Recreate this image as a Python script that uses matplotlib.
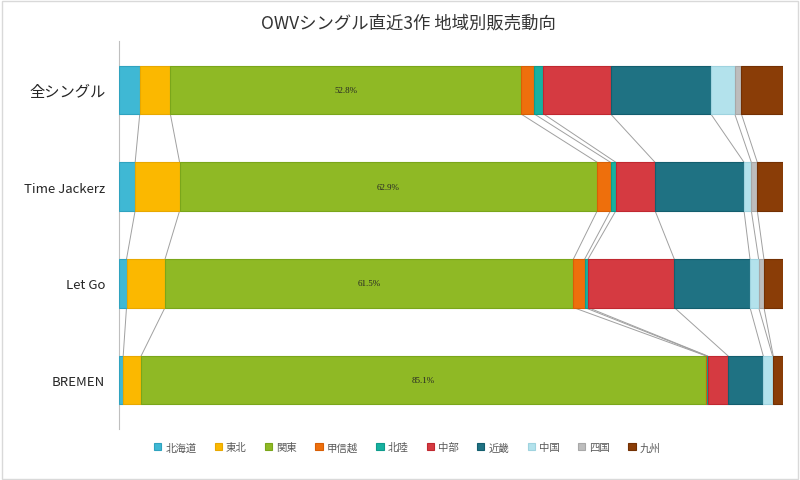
import numpy as np
import matplotlib.pyplot as plt
from matplotlib.patches import Rectangle

plt.rcParams['font.family'] = ['Noto Sans CJK JP', 'DejaVu Sans']

# データ (%)
categories = ['全シングル', 'Time Jackerz', 'Let Go', 'BREMEN']
regions = ['北海道', '東北', '関東', '甲信越', '北陸', '中部', '近畿', '中国', '四国', '九州']
shares = {
    '全シングル':   [3.1, 4.6, 52.8, 2.0, 1.4, 10.1, 15.1, 3.6, 1.0, 6.3],
    'Time Jackerz': [2.4, 6.7, 62.9, 2.0, 0.8, 5.9, 13.4, 1.1, 0.9, 3.9],
    'Let Go':       [1.1, 5.8, 61.5, 1.7, 0.5, 13.0, 11.4, 1.3, 0.8, 2.9],
    'BREMEN':       [0.6, 2.7, 85.1, 0.1, 0.1, 3.1, 5.3, 1.4, 0.1, 1.5],
}
colors = ['#3FB8D4', '#FBB800', '#8FB925', '#EE6F0C', '#17B1A0',
          '#D53A41', '#1F7283', '#B3E2EC', '#BDBDBD', '#8A3D07']
edges = ['#2FA3BF', '#E8A800', '#7AA61A', '#D85F05', '#0E9C8C',
         '#C02830', '#135E6E', '#9FD3DF', '#A8A8A8', '#733003']

fig = plt.figure(figsize=(8, 4.81), dpi=100)
ax = fig.add_axes([0.149, 0.107, 0.83, 0.805])

y = np.arange(len(categories))
h = 0.5
cum = {}
for ci, cat in enumerate(categories):
    vals = np.array(shares[cat])
    vals = vals / vals.sum() * 100
    left = np.concatenate([[0], np.cumsum(vals)[:-1]])
    cum[cat] = np.cumsum(vals)
    for j in range(len(regions)):
        ax.barh(y[ci], vals[j], left=left[j], height=h, color=colors[j],
                edgecolor=edges[j], linewidth=0.8,
                label=regions[j] if ci == 0 else None, zorder=3)
    # 関東のラベル
    ax.text(left[2] + vals[2] / 2, y[ci], f'{shares[cat][2]:.1f}%',
            ha='center', va='center', fontsize=6.5, color='#262626',
            family='Liberation Serif', zorder=4)

# 系列線
for ci in range(len(categories) - 1):
    a = cum[categories[ci]]
    b = cum[categories[ci + 1]]
    for k in range(len(regions)):
        ax.plot([a[k], b[k]], [y[ci] + h / 2, y[ci + 1] - h / 2],
                color='#A0A0A0', linewidth=0.7, zorder=2)

ax.set_xlim(0, 100)
ax.set_ylim(len(categories) - 0.5, -0.5)
ax.set_xticks([])
ax.set_yticks(y)
ax.set_yticklabels(categories)
for i, lab in enumerate(ax.get_yticklabels()):
    lab.set_fontsize(11 if i == 0 else 9.5)
    lab.set_color('#262626')
ax.tick_params(axis='y', length=0, pad=10)
for s in ['top', 'right', 'bottom']:
    ax.spines[s].set_visible(False)
ax.spines['left'].set_color('#BFBFBF')
ax.spines['left'].set_linewidth(0.8)

fig.text(0.51, 0.952, 'OWVシングル直近3作 地域別販売動向', ha='center', va='center',
         fontsize=12.5, color='#333333')

leg = fig.legend(loc='center', bbox_to_anchor=(0.509, 0.068), ncol=10, frameon=False,
                 fontsize=7.5, handlelength=0.7, handleheight=0.7, handletextpad=0.4,
                 columnspacing=1.75, labelcolor='#595959')

fig.add_artist(Rectangle((0.002, 0.002), 0.996, 0.994, transform=fig.transFigure,
                         fill=False, edgecolor='#D9D9D9', linewidth=1))

fig.savefig('out.png', dpi=100)
